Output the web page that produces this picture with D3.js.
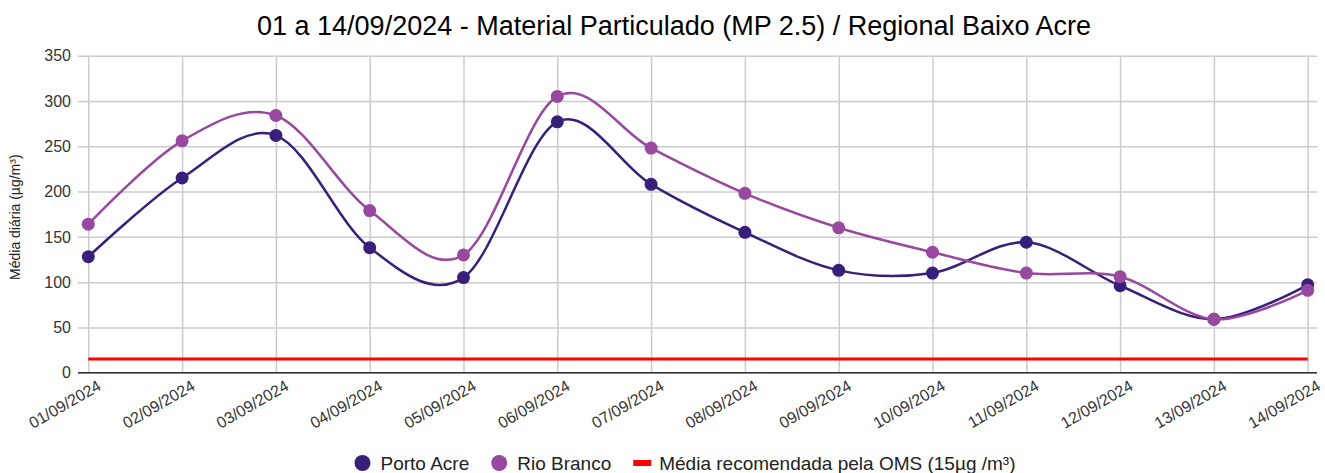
<!doctype html>
<html lang="pt">
  <head>
    <meta charset="UTF-8" />
    <title>Material Particulado (MP 2.5) / Regional Baixo Acre</title>
    <script src="https://d3js.org/d3.v7.min.js"></script>
    <style>
      body {
        margin: 0;
        padding: 0;
        background: #fff;
        font-family: 'Liberation Sans', Arial, sans-serif;
      }
      .title {
        font-size: 27px;
        fill: #000;
      }
      .tick-label {
        font-size: 16px;
        fill: #333;
      }
      .axis-title {
        font-size: 14px;
        fill: #222;
      }
      .legend-item {
        font-size: 19px;
        fill: #222;
      }
    </style>
  </head>
  <body>
    <div id="chart"></div>
    <script>
      // Data
      const dates = [
        '01/09/2024', '02/09/2024', '03/09/2024', '04/09/2024', '05/09/2024',
        '06/09/2024', '07/09/2024', '08/09/2024', '09/09/2024', '10/09/2024',
        '11/09/2024', '12/09/2024', '13/09/2024', '14/09/2024',
      ]
      const portoAcre = [128, 215, 262, 138, 105, 277, 208, 155, 113, 110, 144, 96, 59, 97]
      const rioBranco = [164, 256, 284, 179, 130, 305, 248, 198, 160, 133, 110, 106, 59, 91]
      const omsLimit = 15
      const yTicks = [0, 50, 100, 150, 200, 250, 300, 350]

      const colors = { porto: '#38207a', rio: '#98489f', oms: '#ff0000' }

      const W = 1325
      const H = 473
      const plot = { left: 78, right: 1317, top: 55.7, bottom: 372.7 }

      const svg = d3.select('#chart').append('svg').attr('width', W).attr('height', H)

      // Scales
      const x = d3.scalePoint().domain(dates).range([88.3, 1307.7])
      const y = d3.scaleLinear().domain([0, 350]).range([plot.bottom, plot.top])

      // Title
      svg
        .append('text')
        .attr('class', 'title')
        .attr('x', 674)
        .attr('y', 35)
        .attr('text-anchor', 'middle')
        .text('01 a 14/09/2024 - Material Particulado (MP 2.5) / Regional Baixo Acre')

      // Horizontal gridlines + y labels
      svg
        .append('g')
        .attr('transform', `translate(${plot.right}, 0)`)
        .call(d3.axisLeft(y).tickValues(yTicks).tickSize(plot.right - plot.left).tickFormat(''))
        .call((g) => g.select('.domain').remove())
        .call((g) => g.selectAll('line').attr('stroke', '#cccccc').attr('stroke-width', 1.5))

      svg
        .append('g')
        .selectAll('text')
        .data(yTicks)
        .join('text')
        .attr('class', 'tick-label')
        .attr('x', 71)
        .attr('y', (d) => y(d))
        .attr('dy', '0.36em')
        .attr('text-anchor', 'end')
        .text((d) => d)

      // Vertical gridlines
      svg
        .append('g')
        .attr('transform', `translate(0, ${plot.bottom})`)
        .call(d3.axisBottom(x).tickSize(-(plot.bottom - plot.top)).tickFormat(''))
        .call((g) => g.select('.domain').remove())
        .call((g) => g.selectAll('line').attr('stroke', '#cccccc').attr('stroke-width', 1.5))

      // Baseline
      svg
        .append('line')
        .attr('x1', plot.left)
        .attr('x2', plot.right)
        .attr('y1', y(0))
        .attr('y2', y(0))
        .attr('stroke', '#333')
        .attr('stroke-width', 1.5)

      // X labels, rotated
      svg
        .append('g')
        .selectAll('text')
        .data(dates)
        .join('text')
        .attr('class', 'tick-label')
        .attr('text-anchor', 'end')
        .attr('transform', (d) => `translate(${x(d) + 14}, 389) rotate(-30)`)
        .text((d) => d)

      // Y axis title
      svg
        .append('text')
        .attr('class', 'axis-title')
        .attr('transform', `translate(20, ${(plot.top + plot.bottom) / 2 + 3}) rotate(-90)`)
        .attr('text-anchor', 'middle')
        .text('Média diária (µg/m³)')

      // OMS reference line
      svg
        .append('line')
        .attr('x1', x(dates[0]))
        .attr('x2', x(dates[dates.length - 1]))
        .attr('y1', y(omsLimit))
        .attr('y2', y(omsLimit))
        .attr('stroke', colors.oms)
        .attr('stroke-width', 3)

      const line = d3
        .line()
        .x((d, i) => x(dates[i]))
        .y((d) => y(d))
        .curve(d3.curveCardinal.tension(0))

      const series = [
        { name: 'Porto Acre', values: portoAcre, color: colors.porto },
        { name: 'Rio Branco', values: rioBranco, color: colors.rio },
      ]

      series.forEach((s) => {
        svg
          .append('path')
          .datum(s.values)
          .attr('fill', 'none')
          .attr('stroke', s.color)
          .attr('stroke-width', 2.5)
          .attr('d', line)

        svg
          .append('g')
          .selectAll('circle')
          .data(s.values)
          .join('circle')
          .attr('cx', (d, i) => x(dates[i]))
          .attr('cy', (d) => y(d))
          .attr('r', 6.5)
          .attr('fill', s.color)
      })

      // Legend
      const legend = svg.append('g')
      let lx = 0
      const legendItems = [
        { label: 'Porto Acre', color: colors.porto, type: 'circle' },
        { label: 'Rio Branco', color: colors.rio, type: 'circle' },
        { label: 'Média recomendada pela OMS (15µg /m³)', color: colors.oms, type: 'dash' },
      ]
      legendItems.forEach((item) => {
        if (item.type === 'circle') {
          legend.append('circle').attr('cx', lx + 8).attr('cy', 0).attr('r', 8).attr('fill', item.color)
        } else {
          legend.append('rect').attr('x', lx).attr('y', -3).attr('width', 18).attr('height', 6).attr('fill', item.color)
        }
        const t = legend
          .append('text')
          .attr('class', 'legend-item')
          .attr('x', lx + 26)
          .attr('y', 0)
          .attr('dy', '0.35em')
          .text(item.label)
        lx += 26 + t.node().getComputedTextLength() + 22
      })
      const legendWidth = lx - 22
      legend.attr('transform', `translate(${685 - legendWidth / 2}, 463)`)
    </script>
  </body>
</html>
